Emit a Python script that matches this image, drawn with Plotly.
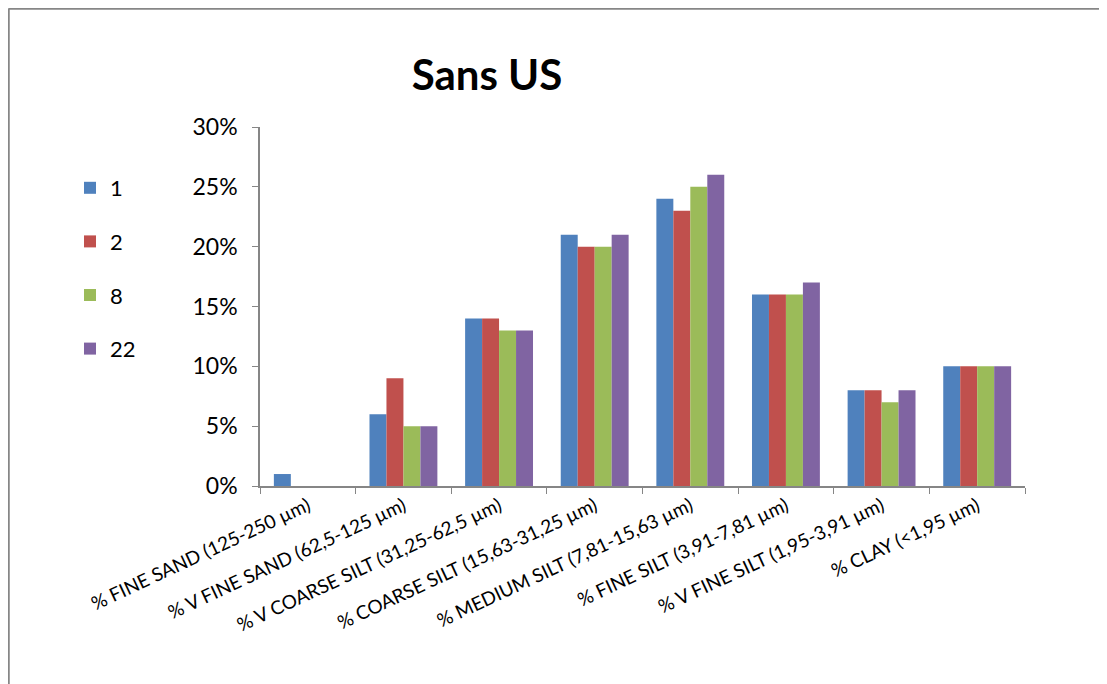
import plotly.graph_objects as go

categories = [
    "% FINE SAND (125-250 µm)",
    "% V FINE SAND (62,5-125 µm)",
    "% V COARSE SILT (31,25-62,5 µm)",
    "% COARSE SILT (15,63-31,25 µm)",
    "% MEDIUM SILT (7,81-15,63 µm)",
    "% FINE SILT (3,91-7,81 µm)",
    "% V FINE SILT (1,95-3,91 µm)",
    "% CLAY (<1,95 µm)",
]
series_names = ["1", "2", "8", "22"]
s1 = [0.01, 0.06, 0.14, 0.21, 0.24, 0.16, 0.08, 0.10]
s2 = [0.0, 0.09, 0.14, 0.20, 0.23, 0.16, 0.08, 0.10]
s8 = [0.0, 0.05, 0.13, 0.20, 0.25, 0.16, 0.07, 0.10]
s22 = [0.0, 0.05, 0.13, 0.21, 0.26, 0.17, 0.08, 0.10]
colors = ["#4F81BD", "#C0504D", "#9BBB59", "#8064A2"]
y_ticks = [0, 0.05, 0.10, 0.15, 0.20, 0.25, 0.30]

OFF = 8  # page body margin
W, H = 1107 - OFF, 684 - OFF
# page-pixel positions of the plot area in the reference
PX0, PX1, PY0, PY1 = 260, 1025, 127, 486
L = PX0 - OFF
T = PY0 - OFF
R = W - (PX1 - OFF)
B = H - (PY1 - OFF)
font = "Lato, 'Open Sans', sans-serif"

fig = go.Figure()
for name, vals, col in zip(series_names, [s1, s2, s8, s22], colors):
    fig.add_trace(go.Bar(
        x=categories, y=vals, name=name, legendgroup=name,
        marker=dict(color=col, line=dict(width=0)),
    ))

pw = W - L - R
ph = H - T - B

def px_x(p):
    return (p - PX0) / pw

def px_y(p):
    return 1 - (p - PY0) / ph

border = dict(color="#868686", width=2.5)
fig.update_layout(
    width=W, height=H,
    margin=dict(l=L, r=R, t=T, b=B),
    paper_bgcolor="white", plot_bgcolor="white",
    barmode="group", bargap=0.29, bargroupgap=0,
    font=dict(family=font, size=20, color="black"),
    title=dict(text="<b>Sans US</b>", x=px_x(487), xref="paper", xanchor="center",
               y=1 - (75 - OFF) / H, yanchor="middle", yref="container",
               font=dict(size=42, family=font, color="black")),
    legend=dict(x=px_x(70), xanchor="left", y=px_y(167), yanchor="top",
                font=dict(size=22), tracegroupgap=22, traceorder="grouped",
                itemwidth=30, bgcolor="rgba(0,0,0,0)"),
    showlegend=True,
    xaxis=dict(
        type="category", tickson="boundaries", ticks="outside", ticklen=6,
        tickcolor="#868686", showline=True, linecolor="#868686", linewidth=1.5,
        tickangle=-25, tickfont=dict(size=19), showgrid=False, automargin=False,
    ),
    yaxis=dict(
        range=[0, 0.30], tickvals=y_ticks, tickformat=".0%", ticks="outside",
        ticklen=6, tickcolor="#868686", showline=True, linecolor="#868686",
        linewidth=1.5, showgrid=False, zeroline=False, tickfont=dict(size=23),
        ticklabelstandoff=10, automargin=False,
    ),
    shapes=[
        dict(type="line", xref="paper", yref="paper",
             x0=px_x(OFF + 0.5), x1=px_x(OFF + 0.5),
             y0=px_y(OFF + H), y1=px_y(OFF + 0.5), line=border),
        dict(type="line", xref="paper", yref="paper",
             x0=px_x(OFF + 0.5), x1=px_x(OFF + W),
             y0=px_y(OFF + 0.5), y1=px_y(OFF + 0.5), line=border),
    ],
)

fig.write_html("out.html")
